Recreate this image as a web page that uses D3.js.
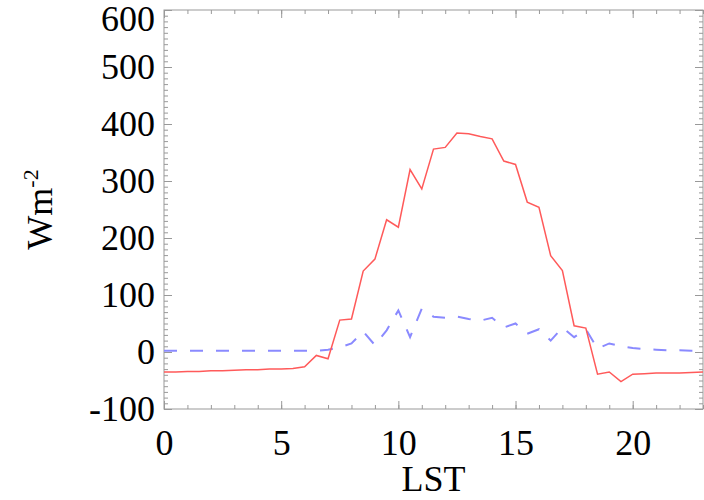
<!DOCTYPE html>
<html>
<head>
<meta charset="utf-8">
<script src="https://cdn.jsdelivr.net/npm/d3@7"></script>
<style>
  body { margin: 0; background: #fff; }
  svg { display: block; }
  .tick text { font-family: "Liberation Serif", "Times New Roman", serif; font-size: 36px; fill: #000; }
  .tick line { stroke: #999; }
  .axisText { font-family: "Liberation Serif", "Times New Roman", serif; font-size: 36px; fill: #000; }
</style>
</head>
<body>
<div id="body"></div>
<script>
// local solar time, half-hour steps
var hours = [0, 0.5, 1, 1.5, 2, 2.5, 3, 3.5, 4, 4.5, 5, 5.5, 6, 6.5, 7, 7.5, 8, 8.5, 9, 9.5,
  10, 10.5, 11, 11.5, 12, 12.5, 13, 13.5, 14, 14.5, 15, 15.5, 16, 16.5, 17, 17.5, 18, 18.5, 19, 19.5,
  20, 20.5, 21, 21.5, 22, 22.5, 23];

// solid red curve
var fluxSolid = [-35, -35, -34, -34, -33, -33, -32, -31, -31, -30, -30, -29, -26, -6, -12, 56, 58, 142, 163, 232,
  219, 320, 286, 356, 359, 384, 383, 378, 374, 335, 329, 263, 254, 169, 143, 46, 42, -39, -35, -52,
  -39, -38, -37, -37, -37, -36, -35];

// dashed blue curve
var fluxDashed = [2, 2, 2, 2, 2, 2, 2, 2, 2, 2, 2, 2, 2, 2, 4, 8, 15, 36, 12, 38,
  73, 26, 76, 62, 60, 62, 58, 55, 60, 43, 50, 32, 40, 20, 43, 26, 40, 6, 15, 10,
  7, 5, 4, 3, 3, 2, 2];

var xMajor = [0, 5, 10, 15, 20];
var xMinor = [0, 1, 2, 3, 4, 5, 6, 7, 8, 9, 10, 11, 12, 13, 14, 15, 16, 17, 18, 19, 20, 21, 22, 23];
var yMajor = [-100, 0, 100, 200, 300, 400, 500, 600];

var margin = {top: 10, right: 1, bottom: 91, left: 164},
width = 704 - margin.left - margin.right,
height = 500 - margin.top - margin.bottom;

var svg = d3.select("#body")
.append("svg")
.attr("width", width + margin.left + margin.right)
.attr("height", height + margin.top + margin.bottom)
.append("g")
.attr("transform", "translate(" + margin.left + "," + margin.top + ")");

var xScale = d3.scaleLinear().domain([0, 23]).range([0, width]);
var yScale = d3.scaleLinear().domain([-100, 600]).range([height, 0]);

var yMinor = d3.range(-100, 601, 10);

// plot box
svg.append("rect")
  .attr("width", width)
  .attr("height", height)
  .attr("fill", "none")
  .attr("stroke", "#999")
  .attr("stroke-width", 1);

function clean(g) { g.select(".domain").remove(); }
var plain = function(d) { return String(d); };

// bottom
svg.append("g").attr("transform", `translate(0, ${height})`)
  .call(d3.axisBottom(xScale).tickValues(xMinor).tickSize(-4).tickFormat(""))
  .call(clean);
svg.append("g").attr("transform", `translate(0, ${height})`)
  .call(d3.axisBottom(xScale).tickValues(xMajor).tickSizeInner(-8).tickSizeOuter(0).tickPadding(20).tickFormat(plain))
  .call(clean);
// top
svg.append("g")
  .call(d3.axisTop(xScale).tickValues(xMinor).tickSize(-4).tickFormat(""))
  .call(clean);
svg.append("g")
  .call(d3.axisTop(xScale).tickValues(xMajor).tickSize(-8).tickFormat(""))
  .call(clean);
// left
svg.append("g")
  .call(d3.axisLeft(yScale).tickValues(yMinor).tickSize(-4).tickFormat(""))
  .call(clean);
var leftAxis = svg.append("g")
  .call(d3.axisLeft(yScale).tickValues(yMajor).tickSizeInner(-8).tickSizeOuter(0).tickPadding(9).tickFormat(plain))
  .call(clean);
// top label would run off the page, push it down a little
leftAxis.selectAll(".tick text")
  .filter(function(d) { return d === 600; })
  .attr("dy", "0.57em");
// right
svg.append("g").attr("transform", `translate(${width}, 0)`)
  .call(d3.axisRight(yScale).tickValues(yMinor).tickSize(-4).tickFormat(""))
  .call(clean);
svg.append("g").attr("transform", `translate(${width}, 0)`)
  .call(d3.axisRight(yScale).tickValues(yMajor).tickSize(-8).tickFormat(""))
  .call(clean);

var line = d3.line()
  .x(function(d, i) { return xScale(hours[i]); })
  .y(function(d) { return yScale(d); });

svg.append("path")
  .datum(fluxDashed)
  .attr("d", line)
  .attr("fill", "none")
  .attr("stroke", "#8a8aff")
  .attr("stroke-width", 2)
  .attr("stroke-dasharray", "13,13");

svg.append("path")
  .datum(fluxSolid)
  .attr("d", line)
  .attr("fill", "none")
  .attr("stroke", "#ff5a5a")
  .attr("stroke-width", 1.5);

// axis titles
svg.append("text")
  .attr("class", "axisText")
  .attr("x", width / 2)
  .attr("y", height + 82)
  .attr("text-anchor", "middle")
  .text("LST");

var yTitle = svg.append("text")
  .attr("class", "axisText")
  .attr("transform", "translate(" + (52 - margin.left) + "," + (height / 2) + ") rotate(-90)")
  .attr("text-anchor", "middle");
yTitle.append("tspan").text("Wm");
yTitle.append("tspan")
  .attr("font-size", "22px")
  .attr("dy", "-14")
  .text("-2");
</script>
</body>
</html>
